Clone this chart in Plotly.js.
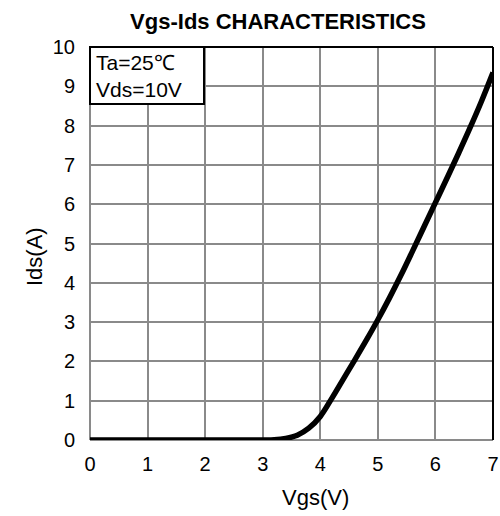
<!DOCTYPE html>
<html>
<head>
<meta charset="utf-8">
<script src="https://cdn.plot.ly/plotly-3.0.1.min.js"></script>
<style>html,body{margin:0;padding:0;background:#fff;}#chart{width:500px;height:516px;}</style>
</head>
<body>
<div id="chart"></div>
<script>
var vgs = [0, 1, 2, 3, 3.2, 3.4, 3.6, 3.8, 4.0, 4.2, 4.4, 4.6, 4.8, 5.0, 5.2, 5.4, 5.6, 5.8, 6.0, 6.2, 6.4, 6.6, 6.8, 7.0];
var ids = [0, 0, 0, 0, 0.005, 0.04, 0.12, 0.3, 0.6, 1.06, 1.55, 2.04, 2.54, 3.06, 3.61, 4.19, 4.8, 5.42, 6.04, 6.66, 7.29, 7.94, 8.62, 9.35];
var xTicks = [0, 1, 2, 3, 4, 5, 6, 7];
var yTicks = [0, 1, 2, 3, 4, 5, 6, 7, 8, 9, 10];
var titleText = 'Vgs-Ids CHARACTERISTICS';
var xTitle = 'Vgs(V)';
var yTitle = 'Ids(A)';
var noteLines = ['Ta=25\u2103', 'Vds=10V'];

var font = 'Liberation Sans, Arial, sans-serif';
var W = 500, H = 516, L = 90, R = 7, T = 47, B = 76;
var pw = W - L - R, ph = H - T - B;
function px(x) { return (x - L) / pw; }
function py(y) { return (H - B - y) / ph; }

var trace = {
  x: vgs, y: ids, mode: 'lines', type: 'scatter',
  line: {color: '#000', width: 5.5, shape: 'spline', smoothing: 1},
  cliponaxis: false, hoverinfo: 'skip'
};
var grid = '#8a8a8a';
var layout = {
  width: W, height: H,
  margin: {l: L, r: R, t: T, b: B, pad: 0},
  paper_bgcolor: '#fff', plot_bgcolor: '#fff',
  showlegend: false,
  font: {family: font, size: 20, color: '#000'},
  title: {text: '<b>' + titleText + '</b>', font: {family: font, size: 22, color: '#000'}, x: 278/W, xanchor: 'center', y: 1 - 21/H, yanchor: 'middle'},
  xaxis: {
    range: [0, 7], tickvals: xTicks, ticktext: xTicks.map(String), ticks: '', ticklabelstandoff: 10,
    showgrid: true, gridcolor: grid, gridwidth: 2, zeroline: false, showline: false,
    tickfont: {family: font, size: 20, color: '#000'},
    fixedrange: true
  },
  yaxis: {
    range: [0, 10], tickvals: yTicks, ticktext: yTicks.map(String), ticks: '', ticklabelstandoff: 14,
    showgrid: true, gridcolor: grid, gridwidth: 2, zeroline: false, showline: false,
    tickfont: {family: font, size: 20, color: '#000'},
    fixedrange: true
  },
  shapes: [
    {type: 'line', xref: 'paper', yref: 'paper', x0: 0, x1: 0, y0: 0, y1: 1, line: {color: grid, width: 2}, layer: 'below'},
    {type: 'line', xref: 'paper', yref: 'paper', x0: 0, x1: 1, y0: 0, y1: 0, line: {color: grid, width: 2}, layer: 'below'},
    {type: 'line', xref: 'paper', yref: 'paper', x0: 0, x1: 1, y0: 1, y1: 1, line: {color: '#000', width: 2}, layer: 'above'},
    {type: 'line', xref: 'paper', yref: 'paper', x0: 1, x1: 1, y0: 0, y1: 1, line: {color: '#000', width: 2}, layer: 'above'},
    {type: 'rect', xref: 'paper', yref: 'paper', x0: 0, x1: px(204), y0: py(104), y1: 1,
     line: {color: '#000', width: 2}, fillcolor: '#fff', layer: 'above'}
  ],
  annotations: [
    {xref: 'paper', yref: 'paper', x: px(94), y: py(49), xanchor: 'left', yanchor: 'top', align: 'left',
     showarrow: false, text: noteLines.join('<br>'), font: {family: font, size: 21, color: '#000'}},
    {xref: 'paper', yref: 'paper', x: px(315), y: py(498), xanchor: 'center', yanchor: 'middle',
     showarrow: false, text: xTitle, font: {family: font, size: 22, color: '#000'}},
    {xref: 'paper', yref: 'paper', x: px(34), y: py(257), xanchor: 'center', yanchor: 'middle', textangle: -90,
     showarrow: false, text: yTitle, font: {family: font, size: 22, color: '#000'}}
  ]
};
Plotly.newPlot('chart', [trace], layout, {displayModeBar: false, staticPlot: true});
</script>
</body>
</html>
